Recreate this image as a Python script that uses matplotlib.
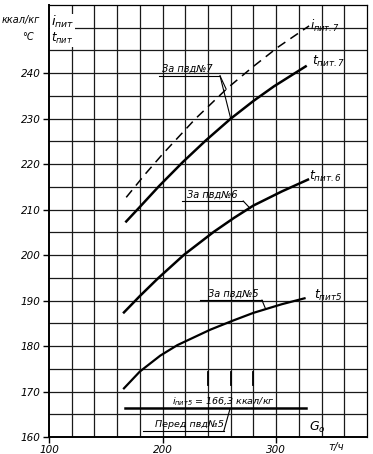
import matplotlib
matplotlib.use('Agg')
import matplotlib.pyplot as plt

plt.rcParams['font.family'] = ['DejaVu Sans']
plt.rcParams['font.style'] = 'italic'
plt.rcParams['mathtext.fontset'] = 'custom'
plt.rcParams['mathtext.it'] = 'DejaVu Sans:italic'
plt.rcParams['mathtext.rm'] = 'DejaVu Sans:italic'

# enthalpy of feed water after HPH 7 (dashed)
g_i7 = [168, 185, 200, 229, 257, 280, 302, 329]
i_pit7 = [212.7, 217.9, 222.2, 230.0, 236.7, 241.5, 245.8, 250.4]

# feed water temperature after HPH 7, 6, 5
g_t7 = [168, 180, 197, 218, 238, 260, 280, 298, 326]
t_pit7 = [207.4, 210.6, 215.2, 220.5, 225.2, 230.0, 233.9, 237.1, 241.5]

g_t6 = [166, 180, 196, 219, 245, 263, 280, 305, 328]
t_pit6 = [187.4, 191.0, 194.9, 200.1, 205.1, 208.2, 210.9, 214.0, 216.6]

g_t5 = [166, 180, 198, 213, 242, 262, 280, 305, 325]
t_pit5 = [170.7, 174.4, 177.9, 180.2, 183.6, 185.6, 187.3, 189.2, 190.5]

# constant enthalpy before HPH 5
g_i5 = [167, 326]
i_pit5 = [166.3, 166.3]

x_ticks = [100, 200, 300]
y_ticks = [160, 170, 180, 190, 200, 210, 220, 230, 240]

fig = plt.figure(figsize=(3.73, 4.54), dpi=100)
ax = fig.add_axes([49 / 373, 1 - 437 / 454, 318 / 373, 432 / 454])
ax.set_xlim(100, 380)
ax.set_ylim(160, 255)

# grid
for x in range(120, 380, 20):
    ax.axvline(x, color='#1a1a1a', lw=0.9, zorder=1)
for y in range(165, 255, 5):
    ax.axhline(y, color='#1a1a1a', lw=0.9, zorder=1)

for s in ['left', 'bottom']:
    ax.spines[s].set_linewidth(1.4)
for s in ['top', 'right']:
    ax.spines[s].set_linewidth(0.9)

ax.set_xticks(x_ticks)
ax.set_yticks(y_ticks)
ax.tick_params(direction='out', length=4, width=1.0, labelsize=7.5, pad=2)
for lab in ax.get_xticklabels() + ax.get_yticklabels():
    lab.set_style('italic')

# curves
ax.plot(g_i7, i_pit7, color='black', lw=1.1, dashes=(6, 4), zorder=3)
ax.plot(g_t7, t_pit7, color='black', lw=1.8, zorder=3)
ax.plot(g_t6, t_pit6, color='black', lw=1.8, zorder=3)
ax.plot(g_t5, t_pit5, color='black', lw=1.6, zorder=3)
ax.plot(g_i5, i_pit5, color='black', lw=1.8, zorder=3)

# short marks
for x in [240, 260, 280]:
    ax.plot([x, x], [171.4, 174.3], color='black', lw=1.3, zorder=3)

# curve labels
ax.text(330, 250.3, r'$i_{пит.7}$', fontsize=8.5, ha='left', va='center')
ax.text(332, 242.6, r'$t_{пит.7}$', fontsize=9, ha='left', va='center')
ax.text(329, 217.3, r'$t_{пит.6}$', fontsize=9, ha='left', va='center')
ax.text(333, 191.2, r'$t_{пит5}$', fontsize=9, ha='left', va='center')

# leader labels
ax.text(222, 239.8, 'За пвд№7', fontsize=7, ha='center', va='bottom')
ax.plot([197, 250.6], [239.4, 239.4], color='black', lw=0.8)
ax.plot([250.6, 256], [239.4, 236.5], color='black', lw=0.8)
ax.plot([250.6, 260], [239.4, 230.0], color='black', lw=0.8)

ax.text(244, 212.3, 'За пвд№6', fontsize=7, ha='center', va='bottom')
ax.plot([217, 271], [211.9, 211.9], color='black', lw=0.8)
ax.plot([271, 277], [211.9, 210.3], color='black', lw=0.8)

ax.text(262, 190.5, 'За пвд№5', fontsize=7, ha='center', va='bottom')
ax.plot([233, 287.5], [190.1, 190.1], color='black', lw=0.8)
ax.plot([287.5, 290.5], [190.1, 188.3], color='black', lw=0.8)

ax.text(208, 167.7, r'$i_{пит5}$ = 166,3 ккал/кг', fontsize=6.8, ha='left', va='center')
ax.text(224, 161.8, 'Перед пвд№5', fontsize=6.8, ha='center', va='bottom')
ax.plot([183, 254], [161.4, 161.4], color='black', lw=0.8)
ax.plot([254, 259.5], [161.4, 166.3], color='black', lw=0.8)

ax.text(336, 162.0, r'$G_o$', fontsize=9, ha='center', va='center')
ax.text(353, 157.8, 'т/ч', fontsize=7.5, ha='center', va='center', clip_on=False)

# header of the y axis
ax.text(101.5, 251.2, r'$i_{пит}$', fontsize=9.5, ha='left', va='center',
        bbox=dict(facecolor='white', edgecolor='none', pad=0.5), zorder=4)
ax.text(101.5, 247.6, r'$t_{пит}$', fontsize=8.5, ha='left', va='center',
        bbox=dict(facecolor='white', edgecolor='none', pad=0.5), zorder=4)
fig.text(2 / 373, 1 - 20 / 454, 'ккал/кг', fontsize=7, ha='left', va='center')
fig.text(28 / 373, 1 - 37 / 454, '°C', fontsize=7, ha='center', va='center')

fig.savefig('out.png', dpi=100)
